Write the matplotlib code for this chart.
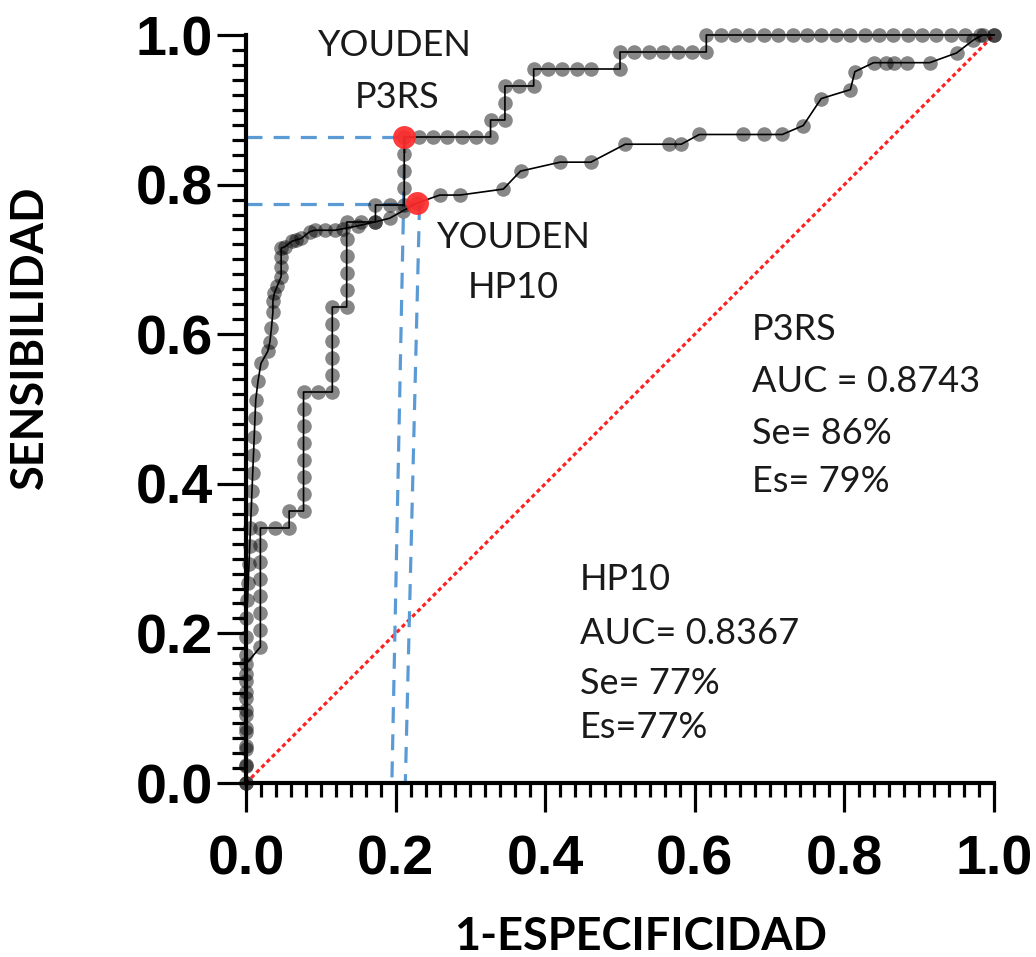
import numpy as np
import matplotlib
matplotlib.use("Agg")
import matplotlib.pyplot as plt
from matplotlib.ticker import MultipleLocator

# ---------------- data ----------------
# P3RS ROC: step points as counts of false positives / true positives
p3rs_n_neg = 52
p3rs_n_pos = 44
p3rs_fp = [0, 0, 0, 0, 0, 0, 0, 0, 1, 1, 1, 1, 1, 1, 1, 1, 2, 3, 3,
           4, 4, 4, 4, 4, 4, 4, 4, 5, 6, 6, 6, 6, 6, 6, 7, 7, 7, 7, 7, 7,
           8, 9, 9, 10, 11, 11, 11, 11, 11, 12, 13, 14, 15, 16, 17,
           17, 18, 18, 18, 19, 20, 20, 21, 22, 23, 24, 26, 26,
           27, 28, 29, 30, 31, 32, 32,
           33, 34, 35, 36, 37, 38, 39, 40, 41, 42, 43, 44, 45, 46, 47, 48, 49, 50, 51, 52]
p3rs_tp = [0, 1, 2, 3, 4, 5, 6, 7, 8, 9, 10, 11, 12, 13, 14, 15, 15, 15, 16,
           16, 17, 18, 19, 20, 21, 22, 23, 23, 23, 24, 25, 26, 27, 28, 28, 29, 30, 31, 32, 33,
           33, 33, 34, 34, 34, 35, 36, 37, 38, 38, 38, 38, 38, 38, 38,
           39, 39, 40, 41, 41, 41, 42, 42, 42, 42, 42, 42, 43,
           43, 43, 43, 43, 43, 43, 44,
           44, 44, 44, 44, 44, 44, 44, 44, 44, 44, 44, 44, 44, 44, 44, 44, 44, 44, 44, 44]

# HP10 ROC points (1-specificity, sensitivity)
hp10_x = [0.0, 0.0, 0.0, 0.0, 0.0, 0.0, 0.0, 0.0, 0.0, 0.0, 0.002, 0.003, 0.004, 0.005,
          0.006, 0.007, 0.008, 0.009, 0.010, 0.011, 0.012, 0.013, 0.016, 0.020, 0.029,
          0.032, 0.034, 0.036, 0.036, 0.038, 0.042, 0.047, 0.047, 0.047, 0.047, 0.052,
          0.061, 0.067, 0.074, 0.085, 0.092, 0.105, 0.119, 0.130, 0.150, 0.172, 0.192,
          0.210, 0.228, 0.259, 0.286, 0.344, 0.367, 0.420, 0.461, 0.507, 0.566, 0.582,
          0.606, 0.665, 0.692, 0.717, 0.745, 0.769, 0.808, 0.814, 0.839, 0.855, 0.866,
          0.884, 0.914, 0.950, 0.972, 0.985, 1.0]
hp10_y = [0.0, 0.024, 0.049, 0.073, 0.098, 0.122, 0.146, 0.171, 0.195, 0.220, 0.244,
          0.268, 0.293, 0.317, 0.341, 0.366, 0.390, 0.415, 0.439, 0.463, 0.488, 0.512,
          0.537, 0.561, 0.577, 0.590, 0.608, 0.630, 0.645, 0.655, 0.665, 0.677, 0.690,
          0.703, 0.715, 0.717, 0.724, 0.726, 0.728, 0.737, 0.739, 0.739, 0.739, 0.741,
          0.745, 0.750, 0.755, 0.765, 0.775, 0.786, 0.786, 0.794, 0.818, 0.830, 0.830,
          0.854, 0.854, 0.854, 0.867, 0.867, 0.867, 0.867, 0.879, 0.915, 0.927, 0.951,
          0.963, 0.963, 0.963, 0.963, 0.963, 0.976, 0.993, 1.0, 1.0]

# Youden points
youden_p3rs = (0.2115, 0.8636)
youden_hp10 = (0.228, 0.775)

xticks = [0.0, 0.2, 0.4, 0.6, 0.8, 1.0]
yticks = [0.0, 0.2, 0.4, 0.6, 0.8, 1.0]
xlabel = "1-ESPECIFICIDAD"
ylabel = "SENSIBILIDAD"

# ---------------- figure ----------------
W, H = 1036, 957
fig = plt.figure(figsize=(W / 100, H / 100), dpi=100)
ax = fig.add_axes([246 / W, (H - 783) / H, 748 / W, 748 / H])

p3rs_x = np.array(p3rs_fp) / p3rs_n_neg
p3rs_y = np.array(p3rs_tp) / p3rs_n_pos

# reference diagonal
ax.plot([0, 1], [0, 1], color="#FF2020", lw=2.3, dashes=(1.3, 1.0), zorder=1, clip_on=False)

# youden guide lines (blue dashed)
blue = "#5B9BD5"
ax.plot([0, youden_p3rs[0] - 0.003], [youden_p3rs[1], youden_p3rs[1]], color=blue, lw=2.3,
        dashes=(5, 3.5), zorder=2, clip_on=False)
ax.plot([youden_p3rs[0] + 0.001, 0.195], [youden_p3rs[1], 0.0], color=blue, lw=2.3,
        dashes=(5, 3.5), zorder=2, clip_on=False)
ax.plot([0, youden_hp10[0] - 0.003], [youden_hp10[1] - 0.001, youden_hp10[1] - 0.001], color=blue, lw=2.3,
        dashes=(5, 3.5), zorder=2, clip_on=False)
ax.plot([youden_hp10[0] + 0.004, 0.213], [youden_hp10[1] - 0.001, 0.0], color=blue, lw=2.3,
        dashes=(5, 3.5), zorder=2, clip_on=False)

# curves
for xs, ys in ((p3rs_x, p3rs_y), (hp10_x, hp10_y)):
    ax.plot(xs, ys, color="black", lw=1.2, zorder=3, clip_on=False)
    ax.plot(xs, ys, ls="none", marker="o", ms=10.5, mfc=(0, 0, 0, 0.47), mec="none",
            zorder=4, clip_on=False)

# youden markers
for pt in (youden_p3rs, youden_hp10):
    ax.plot(pt[0], pt[1], ls="none", marker="o", ms=16.5, mfc="#FF2B2B", mec="none",
            alpha=0.92, zorder=5, clip_on=False)

ax.set_xlim(0, 1)
ax.set_ylim(0, 1)
ax.set_xticks(xticks)
ax.set_yticks(yticks)
ax.set_xticklabels([f"{v:.1f}" for v in xticks])
ax.set_yticklabels([f"{v:.1f}" for v in yticks])
ax.xaxis.set_minor_locator(MultipleLocator(0.02))
ax.yaxis.set_minor_locator(MultipleLocator(0.02))
ax.tick_params(which="major", length=21, width=2.3, direction="out")
ax.tick_params(which="minor", length=10, width=2.3, direction="out")
ax.tick_params(axis="x", which="major", pad=16)
ax.tick_params(axis="y", which="major", pad=3)
for lab in ax.get_xticklabels() + ax.get_yticklabels():
    lab.set_fontfamily("Liberation Sans")
    lab.set_fontweight("bold")
    lab.set_fontsize(40)
for s in ("top", "right"):
    ax.spines[s].set_visible(False)
for s in ("left", "bottom"):
    ax.spines[s].set_linewidth(3)
ax.set_facecolor("white")


def ftext(px, py, s, **kw):
    fig.text(px / W, 1 - py / H, s, **kw)


lab_font = dict(family="Lato", fontweight="bold", color="black")
ftext(641, 937, xlabel, fontsize=32.5, ha="center", va="center", **lab_font)
ftext(30, 337, ylabel, fontsize=32.5, ha="center", va="center", rotation=90, **lab_font)

txt_font = dict(family="Lato", fontsize=26, color="#1a1a1a")
ftext(395, 46, "YOUDEN", ha="center", va="center", **txt_font)
ftext(397, 97, "P3RS", ha="center", va="center", **txt_font)
ftext(514, 237, "YOUDEN", ha="center", va="center", **txt_font)
ftext(513, 287, "HP10", ha="center", va="center", **txt_font)

for i, s in enumerate(["P3RS", "AUC = 0.8743", "Se= 86%", "Es= 79%"]):
    ftext(752, [330, 382, 433, 482][i], s, ha="left", va="center", **txt_font)
for i, s in enumerate(["HP10", "AUC= 0.8367", "Se= 77%", "Es=77%"]):
    ftext(580, [580, 633, 683, 728][i], s, ha="left", va="center", **txt_font)

fig.savefig("out.png", dpi=100, facecolor="white")
